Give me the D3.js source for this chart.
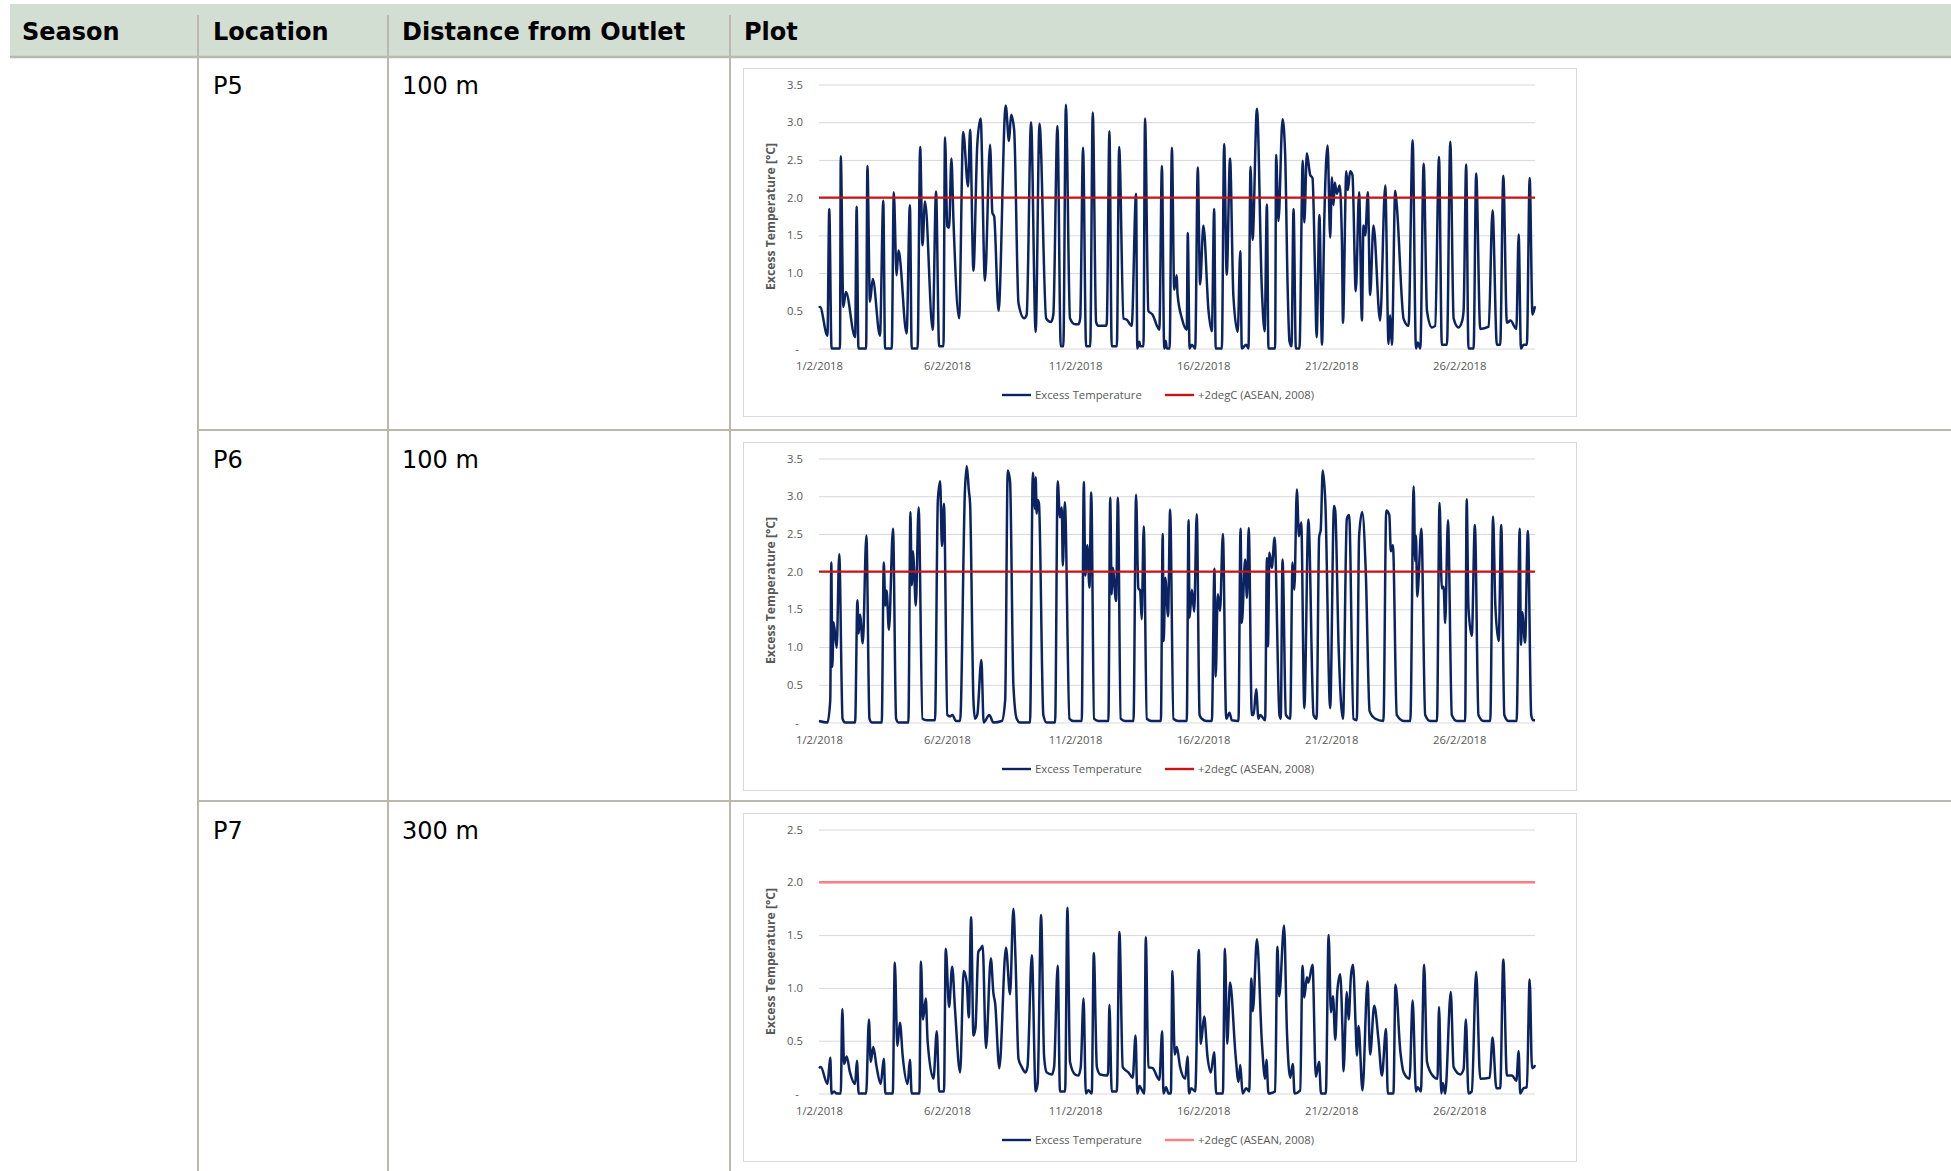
<!DOCTYPE html>
<html>
<head>
<title>Excess Temperature by Location</title>
<script src="https://cdnjs.cloudflare.com/ajax/libs/d3/7.8.5/d3.min.js"></script>
<style>
  body { margin: 0; background: #fff; }
  .head { font: bold 24px "DejaVu Sans", Verdana, sans-serif; fill: #000; }
  .cell { font: 24px "DejaVu Sans", Verdana, sans-serif; fill: #000; }
  .chart text { font-family: "Open Sans", sans-serif; font-size: 11.3px; fill: #595959; }
  .chart .ytitle { font-weight: bold; font-size: 12.2px; }
</style>
</head>
<body>
<div id="page"></div>
<script>
// table text
const headers = ["Season", "Location", "Distance from Outlet", "Plot"];
const locations = ["P5", "P6", "P7"];
const distances = ["100 m", "100 m", "300 m"];

// chart settings
const yMaxes = [3.5, 3.5, 2.5];
const limitValue = 2.0;
const seriesNames = ["Excess Temperature", "+2degC (ASEAN, 2008)"];
const xTickDays = [0, 5, 10, 15, 20, 25];
const xTickLabels = ["1/2/2018", "6/2/2018", "11/2/2018", "16/2/2018", "21/2/2018", "26/2/2018"];
const lastDay = 27.958;

// [days since 1/2/2018 00:00, excess temperature in degC]
const p5Excess = [[0,0.54],[0.04,0.55],[0.33,0.17],[0.40,1.85],[0.49,0],[0.82,0],[0.85,2.55],[0.95,0.55],[1.05,0.75],[1.41,0.15],[1.47,1.88],[1.54,0],[1.84,0],[1.89,2.42],[1.99,0.62],[2.10,0.92],[2.38,0.17],[2.51,1.96],[2.58,0],[2.84,0],[2.92,2.07],[3.03,0.97],[3.10,1.3],[3.14,1.25],[3.42,0.2],[3.55,1.9],[3.62,0],[3.85,0],[3.95,2.67],[4.04,1.37],[4.14,1.95],[4.44,0.25],[4.57,2.08],[4.69,0.03],[4.86,0.03],[4.92,2.8],[5.01,1.62],[5.08,1.6],[5.17,2.52],[5.25,1.7],[5.47,0.4],[5.63,2.87],[5.82,2.15],[5.90,2.9],[6.03,1.03],[6.18,2.7],[6.31,3.05],[6.48,0.9],[6.68,2.7],[6.77,1.8],[6.84,1.75],[7.01,0.5],[7.29,3.22],[7.42,2.75],[7.50,3.1],[7.62,2.9],[7.79,0.6],[8.01,0.4],[8.11,0.45],[8.28,3.0],[8.46,0.22],[8.61,2.98],[8.87,0.4],[9.06,0.35],[9.15,0.45],[9.31,2.95],[9.44,0.03],[9.54,0.03],[9.64,3.23],[9.80,0.4],[10.0,0.32],[10.13,0.32],[10.20,0.4],[10.31,2.66],[10.43,0.03],[10.59,0.03],[10.69,3.13],[10.82,0.35],[10.91,0.3],[11.21,0.3],[11.24,0.35],[11.34,2.88],[11.43,0.03],[11.63,0.03],[11.72,2.67],[11.89,0.4],[12.02,0.38],[12.21,0.3],[12.38,2.05],[12.43,0],[12.51,0.09],[12.54,0.03],[12.67,0.03],[12.73,3.05],[12.86,0.5],[13.02,0.45],[13.29,0.25],[13.39,2.42],[13.48,0],[13.54,0.1],[13.58,0],[13.69,0],[13.78,2.66],[13.87,0.78],[13.97,0.97],[14.0,0.72],[14.17,0.4],[14.36,0.25],[14.40,1.53],[14.47,0],[14.56,0.05],[14.69,0],[14.79,2.4],[14.88,0.85],[15.01,1.63],[15.21,0.5],[15.34,0.23],[15.43,1.85],[15.49,0],[15.73,0],[15.82,2.71],[15.92,0.98],[16.05,2.52],[16.18,0.7],[16.35,0.22],[16.45,1.29],[16.51,0],[16.68,0.05],[16.77,0],[16.85,2.41],[16.93,1.44],[17.10,3.18],[17.29,0.8],[17.40,0.23],[17.49,1.91],[17.55,0],[17.81,0],[17.85,2.57],[17.94,1.69],[18.10,3.04],[18.20,2.6],[18.30,0.8],[18.37,0.1],[18.45,0.03],[18.53,1.85],[18.62,0],[18.76,0],[18.89,2.49],[18.95,1.67],[19.05,2.59],[19.18,2.3],[19.27,2.26],[19.37,1.0],[19.43,0.15],[19.54,1.77],[19.64,0.05],[19.73,1.7],[19.86,2.69],[19.96,1.47],[20.03,2.27],[20.09,1.9],[20.14,2.2],[20.22,2.05],[20.33,2.16],[20.42,1.4],[20.46,0.34],[20.59,2.35],[20.65,2.1],[20.74,2.35],[20.83,2.3],[20.96,0.76],[21.09,2.07],[21.20,0.37],[21.26,1.63],[21.33,1.5],[21.43,2.07],[21.52,0.71],[21.65,1.63],[21.91,0.37],[22.11,2.16],[22.24,0.06],[22.30,0.44],[22.37,0.05],[22.50,2.09],[22.56,1.9],[22.83,0.39],[23.02,0.3],[23.18,2.76],[23.31,0],[23.38,0.08],[23.48,0],[23.61,2.45],[23.74,0.5],[23.93,0.28],[24.06,0.3],[24.21,2.54],[24.32,0.05],[24.52,0.05],[24.65,2.74],[24.78,0.4],[24.97,0.28],[25.10,0.35],[25.17,0.5],[25.27,2.44],[25.36,0],[25.56,0],[25.66,2.32],[25.82,0.26],[26.15,0.29],[26.30,1.83],[26.47,0.05],[26.60,0.05],[26.72,2.29],[26.86,0.34],[27.0,0.37],[27.23,0.26],[27.32,1.51],[27.41,0],[27.51,0.05],[27.64,0.05],[27.75,2.26],[27.86,0.45],[27.958,0.56]];

const p6Excess = [[0,0.02],[0.33,0],[0.44,0.3],[0.48,2.12],[0.52,0.74],[0.57,1.33],[0.69,0.99],[0.79,2.23],[0.92,0.05],[1.02,0],[1.41,0],[1.50,1.62],[1.55,1.18],[1.60,1.43],[1.71,1.05],[1.85,2.48],[1.97,0.05],[2.06,0],[2.45,0],[2.53,2.12],[2.59,1.55],[2.64,1.75],[2.73,1.23],[2.89,2.57],[3.01,0.05],[3.10,0],[3.49,0],[3.57,2.79],[3.62,1.82],[3.67,2.27],[3.71,2.05],[3.78,1.55],[3.89,2.85],[4.04,0.05],[4.21,0.03],[4.53,0.03],[4.64,2.94],[4.73,3.2],[4.80,2.34],[4.88,2.9],[5.01,0.1],[5.12,0.08],[5.21,0.1],[5.35,0.02],[5.51,0.02],[5.70,3.09],[5.77,3.4],[5.85,3.08],[5.90,2.9],[6.03,0.3],[6.09,0.05],[6.18,0.1],[6.34,0.83],[6.43,0],[6.65,0.1],[6.81,0],[7.14,0.02],[7.27,0.3],[7.37,3.34],[7.46,3.2],[7.59,0.5],[7.72,0.05],[7.85,0],[8.24,0],[8.35,3.31],[8.44,2.83],[8.46,3.25],[8.50,2.77],[8.54,2.95],[8.59,2.9],[8.76,0.1],[8.89,0],[9.22,0],[9.32,3.2],[9.41,2.72],[9.48,2.85],[9.52,2.08],[9.60,2.92],[9.78,0.05],[9.93,0.02],[10.26,0.02],[10.34,3.19],[10.40,1.95],[10.48,2.35],[10.56,1.79],[10.63,3.05],[10.74,0.05],[10.91,0.02],[11.30,0.02],[11.37,2.98],[11.43,1.7],[11.47,2.05],[11.60,1.61],[11.67,2.98],[11.78,0.05],[11.95,0.02],[12.28,0.02],[12.38,3.02],[12.47,1.78],[12.54,1.75],[12.60,1.37],[12.68,2.6],[12.80,0.05],[12.99,0.02],[13.35,0.02],[13.42,2.5],[13.46,1.08],[13.52,1.92],[13.63,1.41],[13.71,2.82],[13.84,0.05],[14.04,0.02],[14.36,0.02],[14.43,2.68],[14.47,1.39],[14.56,1.76],[14.65,1.47],[14.75,2.76],[14.86,0.1],[14.95,0.05],[15.14,0.02],[15.34,0.02],[15.44,2.04],[15.49,0.61],[15.57,1.7],[15.66,1.48],[15.77,2.5],[15.90,0.05],[16.03,0.13],[16.12,0.03],[16.38,0.02],[16.46,2.57],[16.51,1.32],[16.64,2.16],[16.71,1.65],[16.78,2.58],[16.90,0.1],[16.97,0.1],[17.07,0.44],[17.16,0.05],[17.23,0.1],[17.42,0.03],[17.49,2.18],[17.53,1.01],[17.59,2.25],[17.68,2.05],[17.79,2.45],[17.98,0.1],[18.03,0.05],[18.10,2.16],[18.23,0.1],[18.40,0.05],[18.49,2.12],[18.56,1.76],[18.66,3.09],[18.74,2.47],[18.83,2.65],[18.95,0.19],[19.11,2.69],[19.31,0.1],[19.43,0.05],[19.53,2.46],[19.59,2.55],[19.67,3.34],[19.77,2.93],[19.96,0.19],[20.11,2.87],[20.16,2.8],[20.29,1.0],[20.46,0.05],[20.61,2.7],[20.70,2.75],[20.87,0.05],[21.0,0.03],[21.09,2.47],[21.21,2.79],[21.35,2.0],[21.50,0.15],[21.72,0.05],[22.04,0.02],[22.15,2.81],[22.27,2.75],[22.33,2.27],[22.41,2.35],[22.56,0.1],[22.83,0.02],[23.09,0.02],[23.22,3.13],[23.28,2.14],[23.31,2.48],[23.36,1.67],[23.52,2.57],[23.67,0.1],[23.87,0.02],[24.13,0.02],[24.23,2.91],[24.32,1.78],[24.39,1.8],[24.45,1.32],[24.56,2.68],[24.71,0.1],[24.91,0.02],[25.23,0.02],[25.29,2.96],[25.36,1.52],[25.49,1.15],[25.61,2.62],[25.75,0.1],[25.95,0.02],[26.21,0.02],[26.32,2.73],[26.41,1.55],[26.54,1.08],[26.64,2.62],[26.76,0.1],[26.93,0.02],[27.24,0.02],[27.36,2.57],[27.41,1.03],[27.46,1.46],[27.57,1.06],[27.68,2.54],[27.81,0.1],[27.89,0.03],[27.958,0.03]];

const p7Excess = [[0,0.24],[0.07,0.25],[0.33,0.09],[0.44,0.34],[0.49,0],[0.59,0.02],[0.69,0],[0.85,0],[0.91,0.8],[0.98,0.28],[1.08,0.35],[1.21,0.2],[1.41,0.09],[1.48,0.31],[1.55,0],[1.84,0],[1.95,0.7],[2.02,0.3],[2.12,0.44],[2.25,0.25],[2.41,0.09],[2.53,0.33],[2.59,0],[2.88,0],[2.96,1.24],[3.06,0.45],[3.16,0.67],[3.27,0.35],[3.46,0.09],[3.55,0.32],[3.62,0],[3.92,0],[3.98,1.25],[4.06,0.7],[4.17,0.9],[4.24,0.5],[4.47,0.14],[4.60,0.59],[4.69,0.02],[4.88,0.02],[4.95,1.37],[5.08,0.82],[5.20,1.2],[5.31,0.8],[5.51,0.2],[5.65,1.16],[5.77,1.05],[5.85,0.72],[5.94,1.67],[6.03,0.55],[6.11,0.62],[6.22,1.34],[6.31,1.37],[6.39,1.4],[6.52,0.43],[6.71,1.28],[6.81,0.95],[6.88,0.85],[7.04,0.24],[7.30,1.38],[7.46,0.94],[7.59,1.75],[7.67,1.3],[7.79,0.33],[7.92,0.25],[8.06,0.2],[8.14,0.25],[8.31,1.31],[8.46,0.02],[8.54,0.1],[8.67,1.69],[8.79,0.35],[8.89,0.2],[9.09,0.18],[9.18,0.25],[9.32,1.21],[9.41,0.02],[9.61,0.02],[9.70,1.76],[9.80,0.3],[10.0,0.18],[10.13,0.17],[10.22,0.25],[10.33,0.9],[10.42,0],[10.52,0.03],[10.65,0],[10.73,1.33],[10.85,0.25],[10.98,0.18],[11.24,0.17],[11.29,0.2],[11.34,0.84],[11.43,0.02],[11.63,0.02],[11.73,1.53],[11.86,0.25],[12.08,0.2],[12.25,0.15],[12.36,0.55],[12.43,0],[12.51,0.07],[12.70,0],[12.76,1.48],[12.86,0.25],[13.03,0.24],[13.29,0.13],[13.40,0.59],[13.45,0],[13.55,0.06],[13.65,0],[13.74,0],[13.80,1.16],[13.89,0.37],[13.97,0.44],[14.10,0.25],[14.30,0.14],[14.39,0.35],[14.45,0],[14.53,0.05],[14.69,0.02],[14.83,1.36],[14.91,0.47],[15.04,0.73],[15.17,0.35],[15.30,0.2],[15.43,0.39],[15.51,0],[15.77,0],[15.85,1.37],[15.94,0.47],[16.05,1.05],[16.27,0.35],[16.38,0.11],[16.45,0.27],[16.54,0],[16.68,0.05],[16.80,0.02],[16.88,1.09],[16.94,0.78],[17.10,1.46],[17.29,0.5],[17.42,0.14],[17.47,0.32],[17.55,0],[17.81,0.02],[17.90,1.39],[17.97,0.92],[18.16,1.59],[18.27,0.6],[18.40,0.15],[18.50,0.28],[18.57,0],[18.79,0.03],[18.88,1.21],[18.95,0.91],[19.05,1.1],[19.11,1.05],[19.27,1.22],[19.40,0.16],[19.53,0.3],[19.60,0],[19.79,0],[19.90,1.5],[19.99,0.77],[20.07,0.92],[20.16,0.51],[20.24,0.97],[20.35,1.13],[20.44,0.6],[20.48,0.21],[20.61,0.96],[20.68,0.7],[20.77,1.11],[20.85,1.22],[20.96,0.6],[21.0,0.36],[21.07,0.64],[21.22,0.03],[21.42,1.06],[21.52,0.37],[21.68,0.83],[21.85,0.5],[21.98,0.17],[22.14,0.61],[22.21,0],[22.43,0],[22.51,1.03],[22.70,0.4],[22.83,0.2],[23.06,0.14],[23.18,0.88],[23.31,0.02],[23.38,0.06],[23.50,0.02],[23.63,1.22],[23.74,0.3],[23.93,0.18],[24.15,0.14],[24.21,0.82],[24.30,0],[24.36,0.1],[24.45,0],[24.67,0.96],[24.78,0.25],[25.04,0.18],[25.17,0.23],[25.26,0.7],[25.36,0],[25.49,0.02],[25.66,1.15],[25.82,0.14],[26.19,0.15],[26.30,0.53],[26.45,0.05],[26.60,0.05],[26.72,1.27],[26.86,0.17],[27.06,0.17],[27.23,0.12],[27.32,0.4],[27.38,0],[27.51,0.05],[27.64,0.06],[27.75,1.08],[27.84,0.24],[27.92,0.25],[27.958,0.27]];

const series = [p5Excess, p6Excess, p7Excess];

// layout
const W = 1951, H = 1171;
const colX = [22, 213, 402, 744];          // text left of each column
const dividers = [198, 388, 730];
const rowTops = [56, 430, 801];
const chartTops = [68, 442, 813];
const chartLeft = 743, chartW = 833, chartH = 348;
const plot = { left: 76, right: 792, top: 16.5, bottom: 280.5 };
const lineColour = "#0b2461";
const limitColours = ["#c81414", "#c81414", "#ff7c80"];
const ruleColour = "#bdb8ae";

const svg = d3.select("#page").append("svg")
    .attr("width", W)
    .attr("height", H);

// header band
svg.append("rect")
    .attr("x", 10).attr("y", 4)
    .attr("width", W - 10).attr("height", 52)
    .attr("fill", "#d3ded3");

svg.append("line")
    .attr("x1", 10).attr("x2", W)
    .attr("y1", 57).attr("y2", 57)
    .attr("stroke", ruleColour).attr("stroke-width", 2.5);

svg.selectAll(".divider")
    .data(dividers)
    .enter().append("line")
    .attr("x1", d => d).attr("x2", d => d)
    .attr("y1", 15).attr("y2", H)
    .attr("stroke", ruleColour).attr("stroke-width", 2);

svg.selectAll(".rowline")
    .data(rowTops.slice(1))
    .enter().append("line")
    .attr("x1", dividers[0]).attr("x2", W)
    .attr("y1", d => d).attr("y2", d => d)
    .attr("stroke", ruleColour).attr("stroke-width", 2);

svg.selectAll(".head")
    .data(headers)
    .enter().append("text")
    .attr("class", "head")
    .attr("x", (d, i) => colX[i])
    .attr("y", 40)
    .text(d => d);

rowTops.forEach((top, i) => {
    svg.append("text").attr("class", "cell")
        .attr("x", colX[1]).attr("y", top + 38).text(locations[i]);
    svg.append("text").attr("class", "cell")
        .attr("x", colX[2]).attr("y", top + 38).text(distances[i]);
});

// charts
const start = new Date(2018, 1, 1);
const toDate = d => new Date(start.getTime() + d * 864e5);

series.forEach((data, i) => {
    const g = svg.append("g")
        .attr("class", "chart")
        .attr("transform", `translate(${chartLeft},${chartTops[i]})`);

    g.append("rect")
        .attr("x", 0.5).attr("y", 0.5)
        .attr("width", chartW).attr("height", chartH)
        .attr("fill", "#fff")
        .attr("stroke", "#d9d9d9");

    const x = d3.scaleTime()
        .domain([start, toDate(lastDay)])
        .range([plot.left, plot.right]);

    const y = d3.scaleLinear()
        .domain([0, yMaxes[i]])
        .range([plot.bottom, plot.top]);

    // y axis with gridlines
    const yAxis = d3.axisLeft(y)
        .tickValues(d3.range(0, yMaxes[i] + 0.01, 0.5))
        .tickFormat(v => v === 0 ? "-" : d3.format(".1f")(v))
        .tickSizeInner(-(plot.right - plot.left))
        .tickSizeOuter(0)
        .tickPadding(16);

    const ya = g.append("g")
        .attr("transform", `translate(${plot.left},0)`)
        .call(yAxis);
    ya.select(".domain").remove();
    ya.selectAll(".tick line").attr("stroke", "#d9d9d9").attr("stroke-width", 1);
    ya.selectAll(".tick text")
        .attr("font-family", null).attr("font-size", null)
        .attr("dx", v => v === 0 ? -4 : 0);

    // x axis
    const xAxis = d3.axisBottom(x)
        .tickValues(xTickDays.map(toDate))
        .tickFormat((d, k) => xTickLabels[k])
        .tickSize(0)
        .tickPadding(13.5);

    const xa = g.append("g")
        .attr("transform", `translate(0,${plot.bottom})`)
        .call(xAxis);
    xa.select(".domain").remove();
    xa.selectAll(".tick text").attr("font-family", null).attr("font-size", null);

    // y title
    g.append("text")
        .attr("class", "ytitle")
        .attr("transform", `translate(32,${(plot.top + plot.bottom) / 2}) rotate(-90)`)
        .attr("text-anchor", "middle")
        .text("Excess Temperature [°C]");

    // series line
    const line = d3.line()
        .x(d => x(toDate(d[0])))
        .y(d => y(d[1]))
        .curve(d3.curveMonotoneX);

    g.append("path")
        .datum(data)
        .attr("d", line)
        .attr("fill", "none")
        .attr("stroke", lineColour)
        .attr("stroke-width", 2.5)
        .attr("stroke-linejoin", "round");

    // limit line
    g.append("line")
        .attr("x1", x(start)).attr("x2", x(toDate(lastDay)))
        .attr("y1", y(limitValue)).attr("y2", y(limitValue))
        .attr("stroke", limitColours[i])
        .attr("stroke-width", 2.4);

    // legend
    const legend = g.append("g").attr("transform", "translate(0,327)");
    const items = [
        { x: 259, colour: lineColour, label: seriesNames[0] },
        { x: 422, colour: limitColours[i], label: seriesNames[1] }
    ];
    items.forEach(it => {
        legend.append("line")
            .attr("x1", it.x).attr("x2", it.x + 29)
            .attr("stroke", it.colour).attr("stroke-width", 2.4);
        legend.append("text")
            .attr("x", it.x + 33)
            .attr("dy", "0.35em")
            .text(it.label);
    });
});
</script>
</body>
</html>
